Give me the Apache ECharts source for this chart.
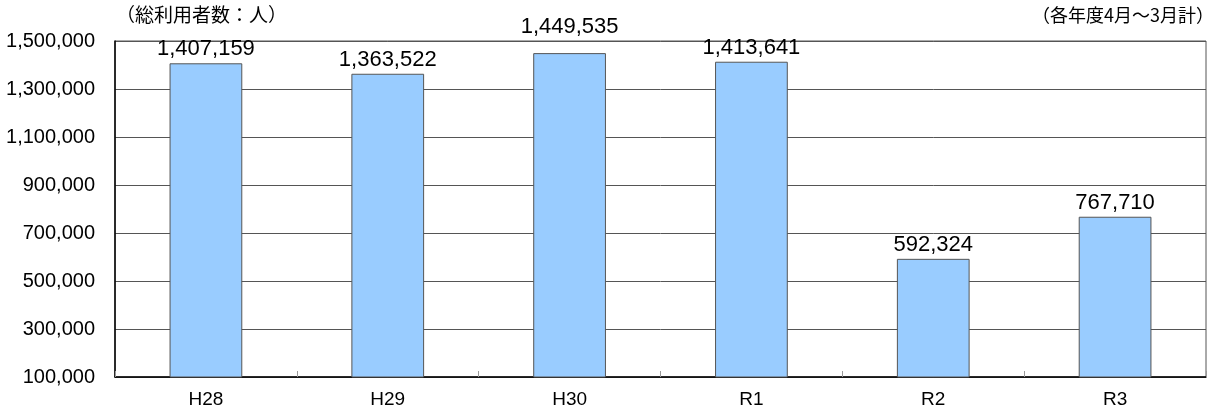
<!DOCTYPE html>
<html><head><meta charset="utf-8">
<script src="https://cdn.jsdelivr.net/npm/echarts@6/dist/echarts.min.js"></script>
<style>html,body{margin:0;padding:0;background:#fff}#c{width:1226px;height:416px}</style>
</head><body><div id="c"></div>
<script>
const categories = ['H28','H29','H30','R1','R2','R3'];
const users = [1407159, 1363522, 1449535, 1413641, 592324, 767710];
const yMin = 100000, yMax = 1500000, yStep = 200000;
const titleLeft = '（総利用者数：人）';
const titleRight = '（各年度4月～3月計）';
const font = '"Noto Sans CJK JP", "Liberation Sans", sans-serif';
const numFont = '"Liberation Sans", sans-serif';
// labels of bars reaching close to the plot top are lifted above the frame
const liftThreshold = 1430000;
const chart = echarts.init(document.getElementById('c'), null, {renderer:'canvas'});
chart.setOption({
  animation:false,
  backgroundColor:'#fff',
  textStyle:{fontFamily:font},
  graphic:[
    {type:'text', left:116, top:5, style:{text:titleLeft, font:'19px '+font, fill:'#000'}},
    {type:'text', right:12, top:6, style:{text:titleRight, font:'18px '+font, fill:'#000'}}
  ],
  grid:{left:115, right:20, top:41, bottom:39, show:true, borderColor:'#555', borderWidth:1},
  xAxis:{type:'category', data:categories,
    axisLine:{lineStyle:{color:'#000', width:1.5}},
    axisTick:{show:true, inside:true, length:6, lineStyle:{color:'#999'}},
    axisLabel:{color:'#000', fontSize:19, margin:13, fontFamily:numFont}},
  yAxis:{type:'value', min:yMin, max:yMax, interval:yStep,
    axisLine:{show:true, lineStyle:{color:'#000', width:1.5}},
    axisTick:{show:false},
    splitLine:{lineStyle:{color:'#555', width:1}},
    axisLabel:{color:'#000', fontSize:20, margin:20, fontFamily:numFont,
      formatter:v=>v.toLocaleString('en-US')}},
  series:[{type:'bar',
    data:users.map(v => v > liftThreshold ? {value:v, label:{distance:15}} : v),
    barWidth:'40%',
    itemStyle:{color:'#99ccff', borderColor:'#555', borderWidth:1},
    label:{show:true, position:'top', distance:3, color:'#000', fontSize:22, fontFamily:numFont,
      formatter:p=>p.value.toLocaleString('en-US')}}]
});
</script></body></html>
